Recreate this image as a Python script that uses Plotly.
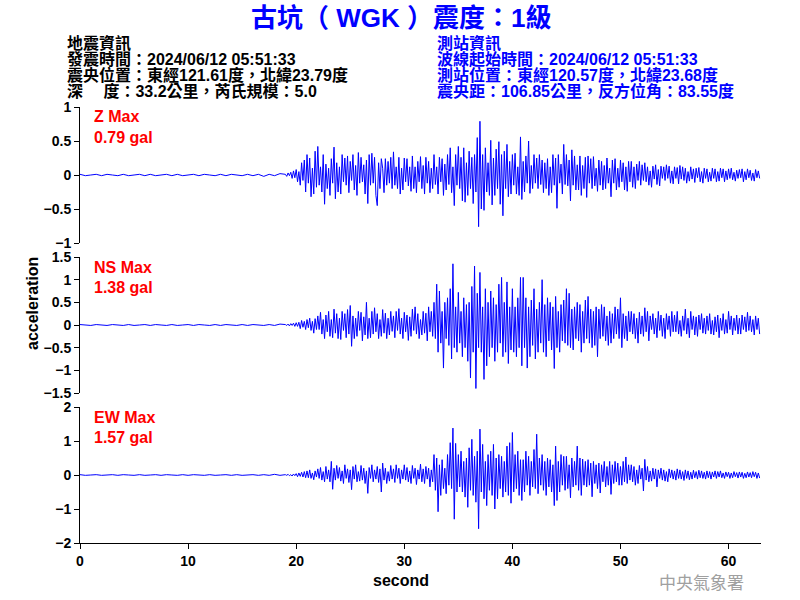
import numpy as np
import plotly.graph_objects as go
from plotly.subplots import make_subplots

# ---------------- data ----------------
pre_dt = 0.5          # quiet pre-event samples, 0 .. 18.5 s
pre_z = [0.01,-0.01,0.0,0.01,-0.01,0.01,0.0,-0.01,0.01,-0.01,0.0,0.01,-0.01,0.01,-0.01,0.0,0.01,-0.01,0.01,
         -0.01,0.0,0.01,-0.01,0.01,0.0,-0.01,0.01,-0.01,0.01,0.0,-0.01,0.01,-0.01,0.01,-0.02,0.01,-0.01,0.02]
pre_ns = [0.01,0.0,-0.01,0.01,0.0,-0.01,0.01,0.0,-0.01,0.01,-0.01,0.0,0.01,-0.01,0.01,0.0,-0.01,0.01,-0.01,
          0.0,0.01,-0.01,0.01,0.0,-0.01,0.01,-0.01,0.01,0.0,-0.01,0.01,-0.01,0.01,0.0,-0.01,0.01,-0.01,0.02]
pre_ew = [0.01,-0.01,0.0,0.01,-0.01,0.0,0.01,-0.01,0.01,0.0,-0.01,0.01,-0.01,0.0,0.01,-0.01,0.01,0.0,-0.01,
          0.01,-0.01,0.01,0.0,-0.01,0.01,-0.01,0.0,0.01,-0.01,0.01,-0.01,0.0,0.01,-0.01,0.01,-0.01,0.02,-0.01]

ev_t0 = 19.0          # event part, 8 samples per second from 19 s
ev_dt = 0.125
z_vals = [
 0.01,-0.02,0.03,-0.01,0.04,-0.05,0.06,-0.04,
 0.08,-0.1,0.05,-0.15,0.18,-0.08,0.22,-0.25,
 0.3,-0.12,0.25,-0.32,0.1,-0.28,0.35,-0.18,
 0.42,-0.15,0.12,-0.25,0.3,-0.43,0.16,-0.2,
 0.1,-0.3,0.24,-0.12,0.41,-0.35,0.18,-0.25,
 0.12,-0.28,0.3,-0.1,0.25,-0.15,0.28,-0.26,
 0.2,-0.08,0.3,-0.22,0.14,-0.3,0.33,-0.12,
 0.26,-0.1,0.15,-0.28,0.22,-0.42,0.3,-0.15,
 0.32,-0.12,0.26,-0.3,-0.45,0.18,-0.2,0.24,
 0.1,-0.26,0.24,-0.15,0.2,-0.12,0.26,-0.2,
 0.34,-0.15,0.12,-0.2,0.26,-0.28,0.1,-0.22,
 0.25,-0.1,0.24,-0.16,0.12,-0.24,0.28,-0.2,
 0.12,-0.26,0.2,-0.1,0.27,-0.2,0.14,-0.28,
 0.26,-0.12,0.2,-0.26,0.1,-0.2,0.3,-0.14,
 0.12,-0.28,0.26,-0.1,0.24,-0.3,0.16,-0.22,
 0.3,-0.14,0.4,-0.26,0.12,-0.45,0.3,-0.15,
 0.42,-0.2,0.26,-0.38,0.4,-0.4,0.18,-0.3,
 0.35,-0.2,0.26,-0.42,0.3,-0.25,0.55,-0.76,
 0.79,-0.5,0.3,-0.52,0.4,-0.25,0.18,-0.3,
 0.51,-0.44,0.25,-0.3,0.38,-0.2,0.49,-0.43,
 0.3,-0.6,0.35,-0.2,0.45,-0.32,0.2,-0.28,
 0.3,-0.15,0.32,-0.28,0.12,-0.3,0.56,-0.36,
 0.2,-0.25,0.28,-0.12,0.5,-0.27,0.14,-0.2,
 0.3,-0.12,0.25,-0.2,0.3,-0.14,0.22,-0.26,
 0.18,-0.2,0.24,-0.3,0.12,-0.26,0.3,-0.15,
 0.25,-0.49,0.3,-0.12,0.16,-0.28,0.45,-0.14,
 0.3,-0.16,0.22,-0.38,0.37,-0.15,0.28,-0.22,
 0.15,-0.22,0.28,-0.3,0.14,-0.2,0.26,-0.33,
 0.28,-0.12,0.24,-0.2,0.27,-0.16,0.1,-0.24,
 0.22,-0.15,0.2,-0.22,0.14,-0.2,0.25,-0.12,
 0.1,-0.32,0.22,-0.12,0.24,-0.22,0.1,-0.18,
 0.22,-0.1,0.18,-0.22,0.12,-0.24,0.2,-0.1,
 0.2,-0.18,0.12,-0.2,0.16,-0.08,0.2,-0.15,
 0.15,-0.08,0.18,-0.1,0.12,-0.15,0.06,-0.18,
 0.13,-0.06,0.15,-0.14,0.08,-0.16,0.13,-0.05,
 0.12,-0.08,0.15,-0.05,0.13,-0.12,0.06,-0.13,
 0.12,-0.05,0.11,-0.13,0.14,-0.06,0.12,-0.08,
 0.1,-0.12,0.05,-0.09,0.12,-0.06,0.09,-0.11,
 0.1,-0.04,0.11,-0.1,0.05,-0.12,0.1,-0.05,
 0.09,-0.1,0.04,-0.09,0.1,-0.05,0.09,-0.1,
 0.05,-0.09,0.1,-0.04,0.09,-0.1,0.06,-0.07,
 0.09,-0.05,0.1,-0.07,0.04,-0.09,0.07,-0.05,
 0.08,-0.04,0.09,-0.1,0.05,-0.07,0.09,-0.04,
 0.07,-0.08,0.03,-0.09,0.08,-0.04,0.06,-0.05]
ns_vals = [
 0.01,-0.01,0.02,-0.02,0.03,-0.01,0.04,-0.03,
 0.05,-0.03,0.06,-0.08,0.1,-0.05,0.08,-0.1,
 0.12,-0.06,0.15,-0.12,0.08,-0.18,0.14,-0.1,
 0.2,-0.1,0.28,-0.2,0.12,-0.3,0.22,-0.15,
 0.3,-0.25,0.12,-0.28,0.35,-0.18,0.25,-0.3,
 0.15,-0.32,0.3,-0.12,0.25,-0.28,0.34,-0.2,
 0.43,-0.47,0.2,-0.3,0.15,-0.25,0.3,-0.12,
 0.28,-0.35,0.18,-0.22,0.5,-0.3,0.15,-0.28,
 0.3,-0.2,0.38,-0.15,0.25,-0.3,0.12,-0.25,
 0.34,-0.18,0.26,-0.3,0.15,-0.22,0.3,-0.14,
 0.2,-0.28,0.3,-0.12,0.36,-0.2,0.15,-0.3,
 0.28,-0.15,0.22,-0.34,0.18,-0.25,0.35,-0.12,
 0.4,-0.2,0.25,-0.3,0.12,-0.22,0.3,-0.18,
 0.26,-0.35,0.4,-0.15,0.3,-0.25,0.5,-0.3,
 0.9,-0.6,0.75,-0.4,0.3,-0.95,0.5,-0.3,
 0.6,-0.45,0.8,-0.75,1.35,-0.5,0.4,-0.6,
 0.72,-0.4,0.3,-0.7,0.6,-0.5,0.45,-0.8,
 0.5,-1.17,0.85,-0.6,1.3,-1.4,0.7,-0.5,
 1.16,-0.6,0.4,-1.2,0.8,-0.9,0.5,-0.7,
 0.75,-0.5,0.6,-0.8,0.45,-0.6,0.9,-0.4,
 1.05,-0.7,0.5,-0.6,0.95,-0.85,0.4,-0.55,
 0.8,-0.6,0.4,-0.7,0.6,-0.5,1.05,-0.9,
 1.05,-0.5,0.6,-0.95,0.4,-0.7,0.55,-0.45,
 0.8,-0.75,0.35,-0.6,0.5,-0.4,1.0,-0.6,
 0.45,-0.7,0.6,-0.35,0.5,-0.55,0.4,-0.96,
 0.63,-0.5,0.3,-0.6,0.45,-0.35,0.55,-0.4,
 0.8,-0.45,0.7,-0.5,0.35,-0.55,0.4,-0.3,
 0.5,-0.35,0.45,-0.6,0.3,-0.4,0.55,-0.3,
 0.63,-0.4,0.35,-0.5,0.3,-0.45,0.4,-0.7,
 0.35,-0.3,0.45,-0.25,0.4,-0.35,0.2,-0.45,
 0.3,-0.4,0.25,-0.3,0.4,-0.2,0.35,-0.3,
 0.6,-0.5,0.25,-0.3,0.2,-0.35,0.3,-0.15,
 0.3,-0.2,0.25,-0.3,0.15,-0.4,0.28,-0.2,
 0.2,-0.25,0.38,-0.15,0.3,-0.35,0.2,-0.1,
 0.25,-0.2,0.15,-0.28,0.3,-0.12,0.22,-0.25,
 0.15,-0.3,0.25,-0.1,0.2,-0.25,0.3,-0.15,
 0.22,-0.15,0.3,-0.2,0.1,-0.25,0.2,-0.12,
 0.35,-0.2,0.15,-0.28,0.3,-0.1,0.2,-0.22,
 0.18,-0.25,0.22,-0.1,0.25,-0.18,0.15,-0.2,
 0.2,-0.12,0.25,-0.2,0.1,-0.22,0.18,-0.15,
 0.22,-0.28,0.15,-0.12,0.25,-0.2,0.12,-0.18,
 0.3,-0.1,0.2,-0.22,0.15,-0.12,0.22,-0.2,
 0.15,-0.2,0.22,-0.1,0.18,-0.15,0.28,-0.12,
 0.2,-0.15,0.12,-0.22,0.2,-0.1,0.15,-0.2]
ew_vals = [
 0.01,-0.01,0.02,-0.02,0.01,-0.03,0.03,-0.02,
 0.04,-0.05,0.06,-0.04,0.08,-0.06,0.1,-0.08,
 0.12,-0.08,0.15,-0.1,0.06,-0.14,0.12,-0.06,
 0.18,-0.1,0.22,-0.15,0.1,-0.2,0.25,-0.12,
 0.15,-0.2,0.4,-0.42,0.2,-0.15,0.28,-0.1,
 0.22,-0.18,0.12,-0.25,0.3,-0.1,0.18,-0.22,
 0.15,-0.43,0.25,-0.12,0.3,-0.2,0.1,-0.18,
 0.28,-0.15,0.2,-0.25,0.12,-0.54,0.22,-0.1,
 0.3,-0.2,0.15,-0.12,0.25,-0.22,0.18,-0.5,
 0.35,-0.15,0.2,-0.25,0.1,-0.18,0.28,-0.12,
 0.18,-0.22,0.3,-0.1,0.2,-0.25,0.15,-0.12,
 0.3,-0.15,0.22,-0.2,0.12,-0.25,0.28,-0.1,
 0.2,-0.28,0.15,-0.12,0.32,-0.2,0.18,-0.25,
 0.25,-0.12,0.2,-0.35,0.15,-0.2,0.6,-0.45,
 0.5,-1.08,0.3,-0.6,0.45,-0.4,0.2,-0.55,
 0.6,-0.3,0.95,-0.4,1.38,-1.3,0.93,-0.5,
 0.6,-0.35,0.7,-0.5,0.4,-0.65,0.5,-0.95,
 0.8,-0.45,1.05,-0.6,0.55,-0.8,0.7,-1.58,
 1.35,-0.5,0.9,-0.7,0.4,-0.9,0.6,-0.45,
 0.7,-0.6,0.9,-1.0,0.5,-0.7,0.6,-0.4,
 0.55,-0.65,0.4,-0.5,0.85,-0.6,0.95,-0.83,
 1.25,-0.5,0.6,-0.4,0.7,-0.6,0.45,-0.75,
 0.45,-0.5,0.7,-0.3,0.55,-0.6,0.4,-0.35,
 0.75,-0.4,1.2,-0.55,0.5,-0.3,0.6,-0.45,
 0.4,-0.6,0.5,-0.35,0.45,-0.5,0.3,-0.9,
 0.85,-0.75,0.4,-0.5,0.6,-0.3,0.55,-0.45,
 0.55,-0.4,0.3,-0.67,0.5,-0.35,0.4,-0.3,
 0.85,-0.45,0.5,-0.6,0.47,-0.3,0.4,-0.35,
 0.45,-0.3,0.35,-0.64,0.4,-0.25,0.3,-0.4,
 0.35,-0.53,0.3,-0.2,0.4,-0.35,0.25,-0.3,
 0.4,-0.57,0.3,-0.25,0.4,-0.2,0.35,-0.3,
 0.25,-0.3,0.4,-0.2,0.53,-0.25,0.3,-0.15,
 0.3,-0.2,0.25,-0.3,0.15,-0.25,0.28,-0.12,
 0.2,-0.47,0.46,-0.15,0.25,-0.2,0.12,-0.18,
 0.2,-0.12,0.18,-0.35,0.15,-0.1,0.2,-0.15,
 0.15,-0.18,0.1,-0.2,0.18,-0.08,0.15,-0.12,
 0.12,-0.15,0.18,-0.1,0.15,-0.12,0.1,-0.16,
 0.15,-0.1,0.12,-0.14,0.08,-0.12,0.14,-0.08,
 0.1,-0.12,0.14,-0.08,0.12,-0.1,0.08,-0.12,
 0.12,-0.08,0.1,-0.12,0.09,-0.06,0.12,-0.1,
 0.1,-0.06,0.12,-0.08,0.06,-0.1,0.09,-0.05,
 0.08,-0.1,0.06,-0.08,0.1,-0.05,0.07,-0.09,
 0.09,-0.06,0.08,-0.1,0.05,-0.08,0.09,-0.06,
 0.07,-0.08,0.1,-0.05,0.08,-0.1,0.06,-0.09]

components = ["Z", "NS", "EW"]
max_gal = ["0.79", "1.38", "1.57"]
y_ranges = [[-1, 1], [-1.5, 1.5], [-2, 2]]
y_dticks = [0.5, 0.5, 1]

title_text = "古坑（ WGK ）震度：1級"
left_info = ["地震資訊", "發震時間：2024/06/12 05:51:33",
             "震央位置：東經121.61度，北緯23.79度", "深　 度：33.2公里，芮氏規模：5.0"]
right_info = ["測站資訊", "波線起始時間：2024/06/12 05:51:33",
              "測站位置：東經120.57度，北緯23.68度", "震央距：106.85公里，反方位角：83.55度"]
x_title = "second"
y_title = "acceleration"
agency = "中央氣象署"

# ---------------- figure ----------------
def series(pre, ev):
    t_pre = np.arange(len(pre)) * pre_dt
    t_ev = ev_t0 + np.arange(len(ev)) * ev_dt
    return np.concatenate([t_pre, t_ev]), np.array(pre + ev)

traces = [series(pre_z, z_vals), series(pre_ns, ns_vals), series(pre_ew, ew_vals)]

L, R, T, B = 80, 39, 107, 57
W, H = 800, 600
ph = H - T - B
pw = W - L - R

def py(y):  # pixel y -> paper
    return (H - B - y) / ph

def px(x):
    return (x - L) / pw

fig = make_subplots(rows=3, cols=1, shared_xaxes=True, vertical_spacing=0.0)
for i, (t, v) in enumerate(traces):
    fig.add_trace(go.Scatter(x=t, y=v, mode="lines", line=dict(color="#0000ff", width=1),
                             showlegend=False, hoverinfo="skip"), row=i + 1, col=1)

domains = [[py(243), 1.0], [py(393), py(257)], [0.0, py(407)]]
tickfont = dict(family="Liberation Sans, Arial", size=14, color="black", weight="bold")
for i in range(3):
    yname = "yaxis" if i == 0 else f"yaxis{i+1}"
    xname = "xaxis" if i == 0 else f"xaxis{i+1}"
    fig.layout[yname].update(domain=domains[i], range=y_ranges[i], dtick=y_dticks[i],
                             showline=True, linecolor="black", linewidth=1, ticks="outside",
                             ticklen=5, tickcolor="black", showgrid=False, zeroline=False,
                             tickfont=tickfont, fixedrange=True)
    last = (i == 2)
    fig.layout[xname].update(range=[0, 63], showgrid=False, zeroline=False,
                             showline=last, linecolor="black", linewidth=1,
                             ticks="outside" if last else "", ticklen=5, tickcolor="black",
                             showticklabels=last, dtick=10, tick0=0, tickfont=tickfont)

cjk = "Liberation Sans, Noto Sans CJK TC, sans-serif"
ann = []
ann.append(dict(text=title_text, x=px(401), xref="paper", y=py(18), yref="paper", xanchor="center",
                yanchor="middle", showarrow=False,
                font=dict(family=cjk, size=26, color="#0000ff", weight="bold")))
for k, s in enumerate(left_info):
    ann.append(dict(text=s, x=px(65), xref="paper", y=py(43 + 16 * k), yref="paper",
                    xanchor="left", yanchor="middle", showarrow=False,
                    font=dict(family=cjk, size=16, color="black", weight="bold")))
for k, s in enumerate(right_info):
    ann.append(dict(text=s, x=px(435), xref="paper", y=py(43 + 16 * k), yref="paper",
                    xanchor="left", yanchor="middle", showarrow=False,
                    font=dict(family=cjk, size=16, color="#0000ff", weight="bold")))
label_y = [117, 267, 417]
for k in range(3):
    ann.append(dict(text=f"{components[k]} Max", x=px(92), xref="paper", y=py(label_y[k]),
                    yref="paper", xanchor="left", yanchor="middle", showarrow=False,
                    font=dict(family="Liberation Sans, Arial", size=16, color="#ff0000", weight="bold")))
    ann.append(dict(text=f"{max_gal[k]} gal", x=px(92), xref="paper", y=py(label_y[k] + 20),
                    yref="paper", xanchor="left", yanchor="middle", showarrow=False,
                    font=dict(family="Liberation Sans, Arial", size=16, color="#ff0000", weight="bold")))
ann.append(dict(text=x_title, x=px(401), xref="paper", y=py(580), yref="paper",
                xanchor="center", yanchor="middle", showarrow=False,
                font=dict(family="Liberation Sans, Arial", size=16, color="black", weight="bold")))
ann.append(dict(text=y_title, x=px(32), xref="paper", y=py(303), yref="paper", textangle=-90,
                xanchor="center", yanchor="middle", showarrow=False,
                font=dict(family="Liberation Sans, Arial", size=16, color="black", weight="bold")))
ann.append(dict(text=agency, x=px(701), xref="paper", y=py(581), yref="paper",
                xanchor="center", yanchor="middle", showarrow=False,
                font=dict(family="Noto Sans CJK TC", size=17, color="#a0a0a0")))

fig.update_layout(width=W, height=H, margin=dict(l=L, r=R, t=T, b=B),
                  paper_bgcolor="white", plot_bgcolor="white", annotations=ann)
fig.write_html("out.html")
